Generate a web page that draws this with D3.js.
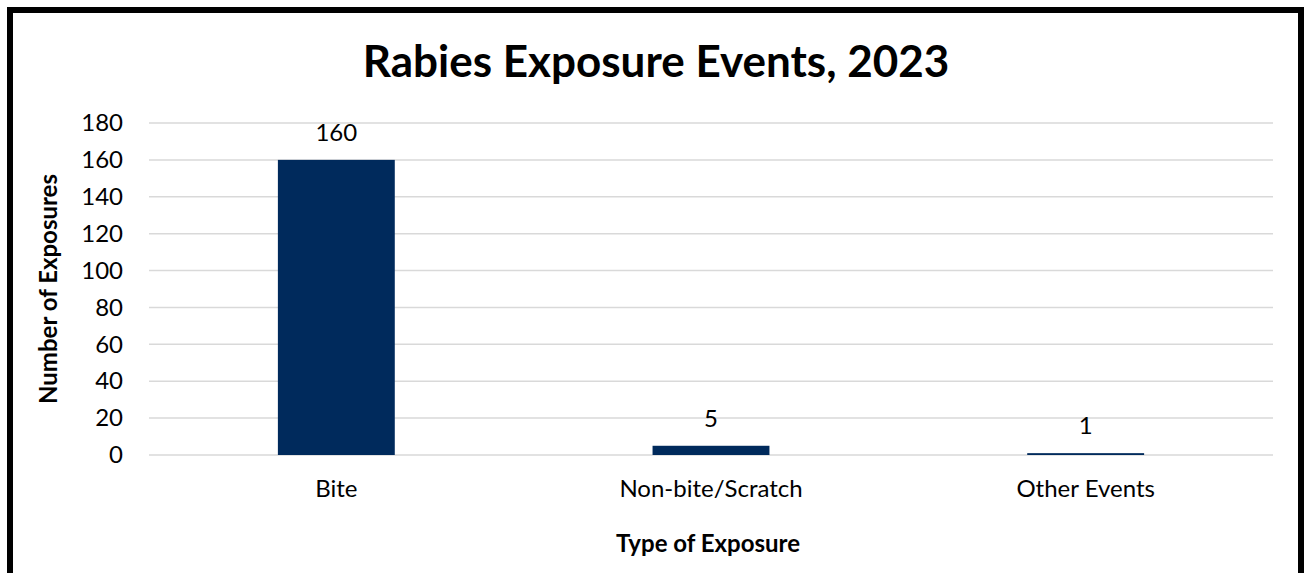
<!DOCTYPE html>
<html>
<head>
<meta charset="utf-8">
<script src="https://cdn.jsdelivr.net/npm/d3@7"></script>
<style>
  body { margin: 0; background: #fff; }
  svg { display: block; font-family: Lato, "Open Sans", sans-serif; }
</style>
</head>
<body>
<svg></svg>
<script>
// chart data
const categories = ["Bite", "Non-bite/Scratch", "Other Events"]
const exposures = [160, 5, 1]
const yTicks = [0, 20, 40, 60, 80, 100, 120, 140, 160, 180]

const width = 1304
const height = 573
const margin = {top: 123, right: 30, bottom: 118, left: 149}

const svg = d3.select("svg")
    .attr("width", width)
    .attr("height", height)

// frame round the chart
svg.append("rect")
    .attr("x", 10)
    .attr("y", 10)
    .attr("width", 1291)
    .attr("height", 620)
    .attr("fill", "none")
    .attr("stroke", "#000")
    .attr("stroke-width", 6)

const x = d3.scaleBand()
    .domain(categories)
    .range([margin.left, width - margin.right - 1])
    .paddingInner(0.688)
    .paddingOuter(0.344)

const y = d3.scaleLinear()
    .domain([0, 180])
    .range([height - margin.bottom, margin.top])

// gridlines
svg.append("g")
    .selectAll("line")
    .data(yTicks)
    .enter()
    .append("line")
    .attr("x1", margin.left)
    .attr("x2", width - margin.right - 1)
    .attr("y1", d => y(d))
    .attr("y2", d => y(d))
    .attr("stroke", "#d9d9d9")
    .attr("stroke-width", 1.5)

// y axis labels
const yAxis = svg.append("g")
    .attr("transform", `translate(${margin.left}, 0)`)
    .call(d3.axisLeft(y).tickValues(yTicks).tickSize(0).tickPadding(26))

yAxis.select(".domain").remove()
yAxis.selectAll("text")
    .attr("font-family", "Lato, sans-serif")
    .attr("font-size", 24)
    .attr("fill", "#000")

// x axis labels
const xAxis = svg.append("g")
    .attr("transform", `translate(0, ${y(0)})`)
    .call(d3.axisBottom(x).tickSize(0).tickPadding(25))

xAxis.select(".domain").remove()
xAxis.selectAll("text")
    .attr("font-family", "Lato, sans-serif")
    .attr("font-size", 24)
    .attr("fill", "#000")

// bars
svg.append("g")
    .selectAll("rect")
    .data(exposures)
    .enter()
    .append("rect")
    .attr("x", (d, i) => x(categories[i]))
    .attr("width", x.bandwidth())
    .attr("y", d => y(d))
    .attr("height", d => y(0) - y(d))
    .attr("fill", "#002a5c")

// value labels
svg.append("g")
    .selectAll("text")
    .data(exposures)
    .enter()
    .append("text")
    .attr("x", (d, i) => x(categories[i]) + x.bandwidth() / 2)
    .attr("y", d => y(d) - 19)
    .attr("text-anchor", "middle")
    .attr("font-size", 24)
    .text(d => d)

// titles
svg.append("text")
    .attr("x", 656)
    .attr("y", 77)
    .attr("text-anchor", "middle")
    .attr("font-weight", "bold")
    .attr("font-size", 44)
    .text("Rabies Exposure Events, 2023")

svg.append("text")
    .attr("x", 708)
    .attr("y", 552)
    .attr("text-anchor", "middle")
    .attr("font-weight", "bold")
    .attr("font-size", 24)
    .text("Type of Exposure")

svg.append("text")
    .attr("transform", "translate(57, 289) rotate(-90)")
    .attr("text-anchor", "middle")
    .attr("font-weight", "bold")
    .attr("font-size", 24)
    .text("Number of Exposures")
</script>
</body>
</html>
